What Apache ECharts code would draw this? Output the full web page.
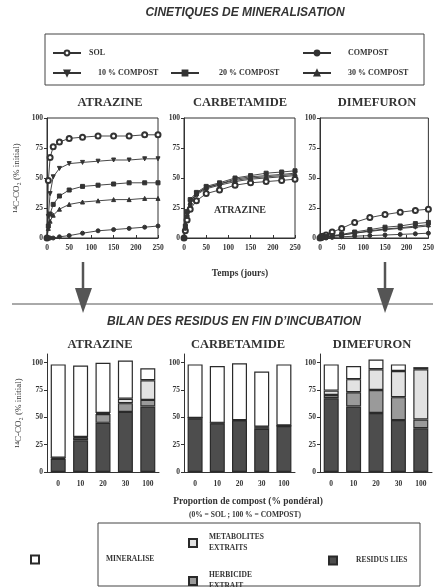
<!DOCTYPE html>
<html>
<head>
<meta charset="utf-8">
<script src="https://cdn.jsdelivr.net/npm/echarts@6/dist/echarts.min.js"></script>
<style>
  html, body { margin: 0; padding: 0; background: #fff; }
  #main { width: 437px; height: 587px; }
</style>
</head>
<body>
<div id="main"></div>
<script>
// temps d'incubation (jours)
var days = [0, 3, 7, 14, 28, 50, 80, 115, 150, 185, 220, 250];

// cinetiques - % 14C-CO2
var atr_sol  = [0, 48, 67, 76, 80, 83, 84, 85, 85, 85, 86, 86];
var atr_10   = [0, 18, 37, 51, 58, 62, 63, 64, 65, 65, 66, 66];
var atr_20   = [0, 10, 20, 28, 35, 40, 43, 44, 45, 46, 46, 46];
var atr_30   = [0, 8, 14, 19, 24, 28, 30, 31, 32, 32, 33, 33];
var atr_comp = [0, 0, 0, 0, 1, 2, 4, 6, 7, 8, 9, 10];

var car_sol  = [0, 6, 15, 24, 31, 37, 40, 44, 46, 47, 48, 49];
var car_10   = [0, 9, 20, 30, 37, 42, 45, 49, 51, 52, 53, 54];
var car_20   = [0, 10, 22, 32, 38, 43, 46, 50, 52, 54, 55, 56];
var car_30   = [0, 9, 20, 30, 37, 42, 45, 48, 50, 51, 52, 53];
var car_comp = [0, 8, 18, 28, 36, 41, 44, 47, 49, 50, 51, 52];

var dim_sol  = [0, 1, 1.5, 2.5, 5, 8, 13, 17, 19.5, 21.5, 23, 24];
var dim_10   = [0, 0, 0.5, 1, 1.5, 2.5, 4, 5.5, 7, 8, 9, 10];
var dim_20   = [0, 0, 0.5, 1, 2, 3, 5, 7, 9, 10, 12, 13];
var dim_30   = [0, 0, 0.5, 1, 1.5, 2.5, 4, 6, 7.5, 8.5, 10, 11];
var dim_comp = [0, 0, 0, 0, 0.5, 1, 1.5, 2, 2.5, 3, 3.5, 4];

// bilan en fin d'incubation
var proportions = ['0', '10', '20', '30', '100'];
var atr_lies = [12, 29, 45, 55, 60];
var atr_herb = [1, 2.5, 8, 8, 6];
var atr_meta = [0, 0.5, 1, 4, 18];
var atr_mine = [85.5, 65.5, 46, 35, 11];

var car_lies = [49, 44.5, 47, 39.5, 42];
var car_herb = [0.5, 0.5, 0.5, 1.5, 0.5];
var car_meta = [0, 0, 0, 0.5, 0];
var car_mine = [49, 52, 52, 50.5, 56];

var dim_lies = [67.5, 60, 54, 47.5, 40];
var dim_herb = [3, 13, 21, 21, 8];
var dim_meta = [4, 12, 19, 24, 46];
var dim_mine = [24, 12, 9, 6, 2];

var SERIF = '"Liberation Serif", "DejaVu Serif", serif';
var SANS = '"Liberation Sans", Arial, sans-serif';
var INK = '#333';

var dom = document.getElementById('main');
var myChart = echarts.init(dom, null, { renderer: 'canvas' });

function kin(name, vals, idx, symbol, rot, size) {
  return {
    type: 'line', name: name,
    xAxisIndex: idx, yAxisIndex: idx,
    data: days.map(function (d, i) { return [d, vals[i]]; }),
    symbol: symbol, symbolSize: size || 4, symbolRotate: rot || 0,
    lineStyle: { color: INK, width: 0.9 },
    itemStyle: { color: INK, borderColor: INK, borderWidth: 1 },
    z: 3
  };
}

var fractions = [
  { name: 'RESIDUS LIES', color: '#4d4d4d' },
  { name: 'HERBICIDE\nEXTRAIT', color: '#9a9a9a' },
  { name: 'METABOLITES\nEXTRAITS', color: '#e2e2e2' },
  { name: 'MINERALISE', color: '#ffffff' }
];

function bilan(idx, stack, parts) {
  return parts.map(function (vals, k) {
    return {
      type: 'bar', name: fractions[k].name,
      xAxisIndex: idx, yAxisIndex: idx, stack: stack,
      barWidth: 15,
      data: vals,
      itemStyle: { color: fractions[k].color, borderColor: '#2a2a2a', borderWidth: 1.2 }
    };
  });
}

var topLeft = [47, 184, 320], topW = [111, 111, 110];
var botLeft = [47, 184, 320], botW = [112, 111, 112];

var grids = [], xAxes = [], yAxes = [];
for (var i = 0; i < 3; i++) {
  grids.push({ left: topLeft[i], top: 118, width: topW[i], height: 120, show: true,
    borderColor: INK, borderWidth: 1, backgroundColor: 'transparent' });
  xAxes.push({ type: 'value', gridIndex: i, min: 0, max: 250, interval: 50,
    axisLine: { lineStyle: { color: INK } },
    axisTick: { inside: true, length: 3, lineStyle: { color: INK } },
    axisLabel: { color: INK, fontSize: 7.5, fontWeight: 'bold', fontFamily: SERIF, margin: 6 },
    splitLine: { show: false } });
  yAxes.push({ type: 'value', gridIndex: i, min: 0, max: 100, interval: 25,
    axisLine: { show: true, lineStyle: { color: INK } },
    axisTick: { show: true, length: 3, lineStyle: { color: INK } },
    axisLabel: { color: INK, fontSize: 7.5, fontWeight: 'bold', fontFamily: SERIF, margin: 4 },
    splitLine: { show: false },
    name: i === 0 ? '\u00b9\u2074C-CO\u2082 (% initial)' : '',
    nameLocation: 'middle', nameGap: 26,
    nameTextStyle: { color: INK, fontSize: 9, fontFamily: SERIF } });
}
for (var j = 0; j < 3; j++) {
  grids.push({ left: botLeft[j], top: 354, width: botW[j], height: 118 });
  xAxes.push({ type: 'category', gridIndex: 3 + j, data: proportions,
    axisLine: { lineStyle: { color: INK } },
    axisTick: { alignWithLabel: true, length: 3, lineStyle: { color: INK } },
    axisLabel: { color: INK, fontSize: 7.5, fontWeight: 'bold', fontFamily: SERIF, margin: 8 } });
  yAxes.push({ type: 'value', gridIndex: 3 + j, min: 0, max: 108,
    axisLine: { show: true, lineStyle: { color: INK } },
    axisTick: { show: true, length: 3, customValues: [0, 25, 50, 75, 100], lineStyle: { color: INK } },
    axisLabel: { color: INK, fontSize: 7.5, fontWeight: 'bold', fontFamily: SERIF, margin: 4,
      customValues: [0, 25, 50, 75, 100] },
    splitLine: { show: false },
    name: j === 0 ? '\u00b9\u2074C-CO\u2082 (% initial)' : '',
    nameLocation: 'middle', nameGap: 24,
    nameTextStyle: { color: INK, fontSize: 9, fontFamily: SERIF } });
}

var series = [].concat(
  kin('SOL', atr_sol, 0, 'emptyCircle', 0, 5),
  kin('COMPOST', atr_comp, 0, 'circle'),
  kin('10 % COMPOST', atr_10, 0, 'triangle', 180),
  kin('20 % COMPOST', atr_20, 0, 'rect'),
  kin('30 % COMPOST', atr_30, 0, 'triangle'),
  kin('SOL', car_sol, 1, 'emptyCircle', 0, 5),
  kin('COMPOST', car_comp, 1, 'circle'),
  kin('10 % COMPOST', car_10, 1, 'triangle', 180),
  kin('20 % COMPOST', car_20, 1, 'rect'),
  kin('30 % COMPOST', car_30, 1, 'triangle'),
  kin('SOL', dim_sol, 2, 'emptyCircle', 0, 5),
  kin('COMPOST', dim_comp, 2, 'circle'),
  kin('10 % COMPOST', dim_10, 2, 'triangle', 180),
  kin('20 % COMPOST', dim_20, 2, 'rect'),
  kin('30 % COMPOST', dim_30, 2, 'triangle'),
  bilan(3, 'atr', [atr_lies, atr_herb, atr_meta, atr_mine]),
  bilan(4, 'car', [car_lies, car_herb, car_meta, car_mine]),
  bilan(5, 'dim', [dim_lies, dim_herb, dim_meta, dim_mine])
);

function lineLegend(name, left, top, padLeft) {
  return { data: [name], left: left, top: top, itemWidth: 28, itemHeight: 6,
    selectedMode: false, padding: 0,
    textStyle: { color: INK, fontSize: 8, fontWeight: 'bold', fontFamily: SERIF, padding: [0, 0, 0, padLeft] } };
}
function boxLegend(name, left, top, pad) {
  return { data: [name], left: left, top: top, itemWidth: 8, itemHeight: 8, icon: 'rect',
    selectedMode: false, padding: 0,
    textStyle: { color: INK, fontSize: 7.5, fontWeight: 'bold', fontFamily: SERIF, lineHeight: 11, padding: pad } };
}

function ttl(text, left, top, size, style) {
  return { text: text, left: left, top: top, textAlign: 'center', padding: 0,
    textStyle: { color: INK, fontSize: size, fontWeight: 'bold',
      fontFamily: style === 'sans' ? SANS : SERIF, fontStyle: style === 'sans' ? 'italic' : 'normal' } };
}

var option = {
  animation: false,
  backgroundColor: '#fff',
  title: [
    ttl('CINETIQUES DE MINERALISATION', 245, 7, 12, 'sans'),
    ttl('ATRAZINE', 110, 96, 12.5),
    ttl('CARBETAMIDE', 240, 96, 12.5),
    ttl('DIMEFURON', 377, 96, 12.5),
    ttl('ATRAZINE', 240, 205, 10),
    { text: 'Temps (jours)', left: 240, top: 269, textAlign: 'center', padding: 0,
      textStyle: { color: INK, fontSize: 9.5, fontWeight: 'bold', fontFamily: SERIF } },
    ttl('BILAN DES RESIDUS EN FIN D\u2019INCUBATION', 234, 316, 12, 'sans'),
    ttl('ATRAZINE', 100, 338, 12.5),
    ttl('CARBETAMIDE', 238, 338, 12.5),
    ttl('DIMEFURON', 372, 338, 12.5),
    { text: 'Proportion de compost (% pond\u00e9ral)', left: 248, top: 497, textAlign: 'center', padding: 0,
      textStyle: { color: INK, fontSize: 9.5, fontWeight: 'bold', fontFamily: SERIF } },
    { text: '(0% = SOL ; 100 % = COMPOST)', left: 245, top: 511, textAlign: 'center', padding: 0,
      textStyle: { color: INK, fontSize: 7.5, fontWeight: 'bold', fontFamily: SERIF } }
  ],
  legend: [
    lineLegend('SOL', 52, 49, 3),
    lineLegend('COMPOST', 302, 49, 12),
    lineLegend('10 % COMPOST', 52, 69, 12),
    lineLegend('20 % COMPOST', 170, 69, 15),
    lineLegend('30 % COMPOST', 302, 69, 12),
    boxLegend('MINERALISE', 30, 554, [0, 0, 0, 62]),
    boxLegend('METABOLITES\nEXTRAITS', 188, 527, [10, 0, 0, 7]),
    boxLegend('HERBICIDE\nEXTRAIT', 188, 564, [12, 0, 0, 7]),
    boxLegend('RESIDUS LIES', 328, 555, [0, 0, 0, 14])
  ],
  grid: grids,
  xAxis: xAxes,
  yAxis: yAxes,
  series: series,
  graphic: [
    { type: 'rect', shape: { x: 45, y: 34, width: 379, height: 51 },
      style: { fill: 'none', stroke: '#444', lineWidth: 1 }, silent: true },
    { type: 'rect', shape: { x: 98, y: 523, width: 322, height: 63 },
      style: { fill: 'none', stroke: '#444', lineWidth: 1 }, silent: true },
    { type: 'line', shape: { x1: 12, y1: 304, x2: 433, y2: 304 },
      style: { stroke: '#555', lineWidth: 1 }, silent: true },
    { type: 'line', shape: { x1: 83, y1: 262, x2: 83, y2: 290 },
      style: { stroke: '#555', lineWidth: 2.5 }, silent: true },
    { type: 'polygon', shape: { points: [[75, 288], [92, 288], [83, 313]] },
      style: { fill: '#555' }, silent: true },
    { type: 'line', shape: { x1: 385, y1: 262, x2: 385, y2: 290 },
      style: { stroke: '#555', lineWidth: 2.5 }, silent: true },
    { type: 'polygon', shape: { points: [[377, 288], [394, 288], [385, 313]] },
      style: { fill: '#555' }, silent: true }
  ]
};

myChart.setOption(option);
window.addEventListener('resize', myChart.resize);
</script>
</body>
</html>
